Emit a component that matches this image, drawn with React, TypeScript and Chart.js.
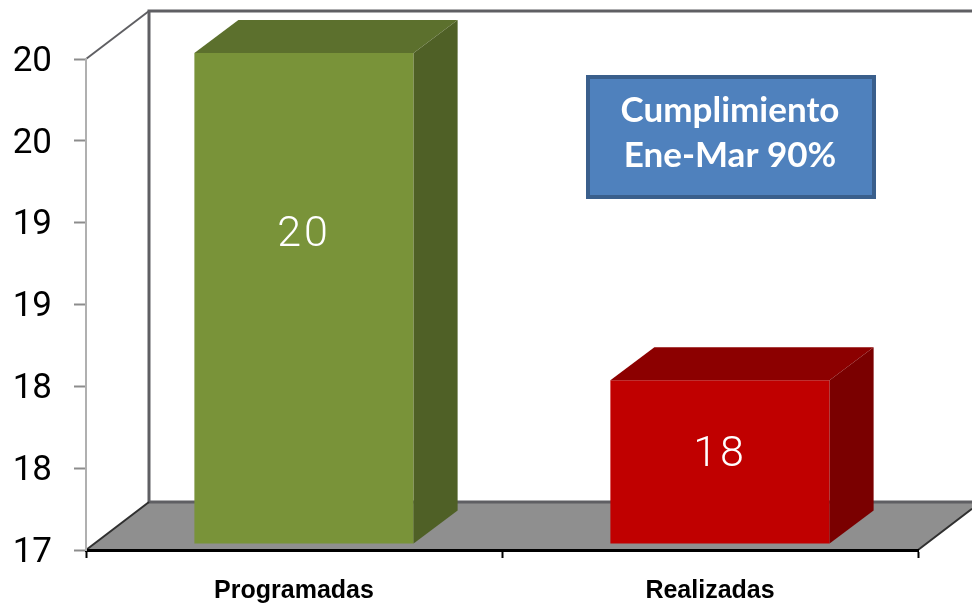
import React, { useEffect, useRef } from "react";
import { Chart, registerables } from "chart.js";

Chart.register(...registerables);

const categories = ["Programadas", "Realizadas"];
const values = [20, 18];
const frontColors = ["#799339", "#c00000"];
const topColors = ["#5c702d", "#8c0000"];
const sideColors = ["#4f6026", "#7a0000"];
const calloutLines = ["Cumplimiento", "Ene-Mar 90%"];

const BAR_DX = 44;
const BAR_DY = 33;
const WALL_DX = 63;
const WALL_DY = 48;

const wallsPlugin = {
  id: "walls",
  beforeDraw(chart: any) {
    const { ctx, chartArea: a, width } = chart;
    const backX = a.left + WALL_DX;
    const backBottom = a.bottom - WALL_DY;
    const backTop = a.top - WALL_DY;
    ctx.save();
    ctx.fillStyle = "#ffffff";
    ctx.fillRect(0, 0, width, chart.height);
    // floor
    ctx.fillStyle = "#8f8f8f";
    ctx.beginPath();
    ctx.moveTo(a.left, a.bottom);
    ctx.lineTo(backX, backBottom);
    ctx.lineTo(width, backBottom);
    ctx.lineTo(width, a.bottom - (width - a.right) * (WALL_DY / WALL_DX));
    ctx.lineTo(a.right, a.bottom);
    ctx.closePath();
    ctx.fill();
    // wall lines
    ctx.strokeStyle = "#5f5f63";
    ctx.lineWidth = 3;
    ctx.beginPath();
    ctx.moveTo(width, backTop);
    ctx.lineTo(backX, backTop);
    ctx.lineTo(backX, backBottom);
    ctx.lineTo(width, backBottom);
    ctx.stroke();
    ctx.lineWidth = 2;
    ctx.beginPath();
    ctx.moveTo(a.left, a.top);
    ctx.lineTo(backX, backTop);
    ctx.stroke();
    ctx.strokeStyle = "#303030";
    ctx.beginPath();
    ctx.moveTo(backX, backBottom);
    ctx.lineTo(a.left, a.bottom);
    ctx.moveTo(a.right, a.bottom);
    ctx.lineTo(width, a.bottom - (width - a.right) * (WALL_DY / WALL_DX));
    ctx.stroke();
    ctx.restore();
  },
};

const bars3dPlugin = {
  id: "bars3d",
  beforeDatasetsDraw(chart: any) {
    chart.ctx.save();
    chart.ctx.translate(10, -6);
  },
  afterDatasetsDraw(chart: any) {
    const { ctx } = chart;
    chart.getDatasetMeta(0).data.forEach((el: any, i: number) => {
      const l = el.x - el.width / 2;
      const r = el.x + el.width / 2;
      const t = el.y;
      const b = el.base;
      ctx.fillStyle = topColors[i];
      ctx.beginPath();
      ctx.moveTo(l, t);
      ctx.lineTo(l + BAR_DX, t - BAR_DY);
      ctx.lineTo(r + BAR_DX, t - BAR_DY);
      ctx.lineTo(r, t);
      ctx.closePath();
      ctx.fill();
      ctx.fillStyle = sideColors[i];
      ctx.beginPath();
      ctx.moveTo(r, t);
      ctx.lineTo(r + BAR_DX, t - BAR_DY);
      ctx.lineTo(r + BAR_DX, b - BAR_DY);
      ctx.lineTo(r, b);
      ctx.closePath();
      ctx.fill();
      ctx.fillStyle = "#ffffff";
      ctx.font = '300 43px Roboto, "Open Sans", sans-serif';
      (ctx as any).letterSpacing = "3px";
      ctx.textAlign = "center";
      ctx.textBaseline = "middle";
      ctx.fillText(String(values[i]), el.x, t + 0.328 * (b - t) + 21);
      (ctx as any).letterSpacing = "0px";
    });
    ctx.restore();
  },
};

const calloutPlugin = {
  id: "callout",
  afterDraw(chart: any) {
    const { ctx } = chart;
    ctx.save();
    ctx.fillStyle = "#4f81bd";
    ctx.strokeStyle = "#3a5f8c";
    ctx.lineWidth = 4;
    ctx.beginPath();
    ctx.rect(588, 77, 286, 120);
    ctx.fill();
    ctx.stroke();
    ctx.fillStyle = "#ffffff";
    ctx.font = "700 35px Lato, sans-serif";
    ctx.textAlign = "center";
    ctx.textBaseline = "middle";
    calloutLines.forEach((line, i) => ctx.fillText(line, 730, 111 + i * 45));
    ctx.restore();
  },
};

export default function App() {
  const ref = useRef<HTMLCanvasElement>(null);
  useEffect(() => {
    const chart = new Chart(ref.current as HTMLCanvasElement, {
      type: "bar",
      data: {
        labels: categories,
        datasets: [
          {
            data: values,
            base: 17,
            backgroundColor: frontColors,
            borderWidth: 0,
            barPercentage: 0.527,
            categoryPercentage: 1,
            clip: false,
          },
        ],
      },
      options: {
        responsive: false,
        animation: false,
        devicePixelRatio: 1,
        layout: { padding: { top: 59, right: 54, left: 0, bottom: 0 } },
        plugins: { legend: { display: false }, tooltip: { enabled: false }, title: { display: false } },
        scales: {
          x: {
            afterFit: (s: any) => {
              s.height = 53;
            },
            border: { color: "#000000", width: 3 },
            grid: { drawOnChartArea: false, color: "#000000", tickLength: 8, tickWidth: 2 },
            ticks: {
              color: "#000000",
              padding: 18,
              maxRotation: 0,
              font: { family: '"Liberation Sans", Arial, sans-serif', size: 25, weight: "bold" },
            },
          },
          y: {
            min: 17,
            max: 20,
            afterFit: (s: any) => {
              s.width = 86;
            },
            border: { color: "#b0b0b0", width: 2 },
            grid: { drawOnChartArea: false, color: "#8c8c8c", tickLength: 12, tickWidth: 2 },
            ticks: {
              stepSize: 0.5,
              color: "#000000",
              padding: 22,
              labelOffset: 3,
              font: { family: "Roboto, sans-serif", size: 35, weight: "400" },
              callback: (v: any) => Number(v).toFixed(0),
            },
          },
        },
      },
      plugins: [wallsPlugin, bars3dPlugin, calloutPlugin],
    } as any);
    return () => chart.destroy();
  }, []);
  return (
    <div style={{ position: "absolute", left: 0, top: 0, width: 972, height: 603, overflow: "hidden" }}>
      <canvas ref={ref} width={972} height={603} style={{ display: "block" }} />
    </div>
  );
}
